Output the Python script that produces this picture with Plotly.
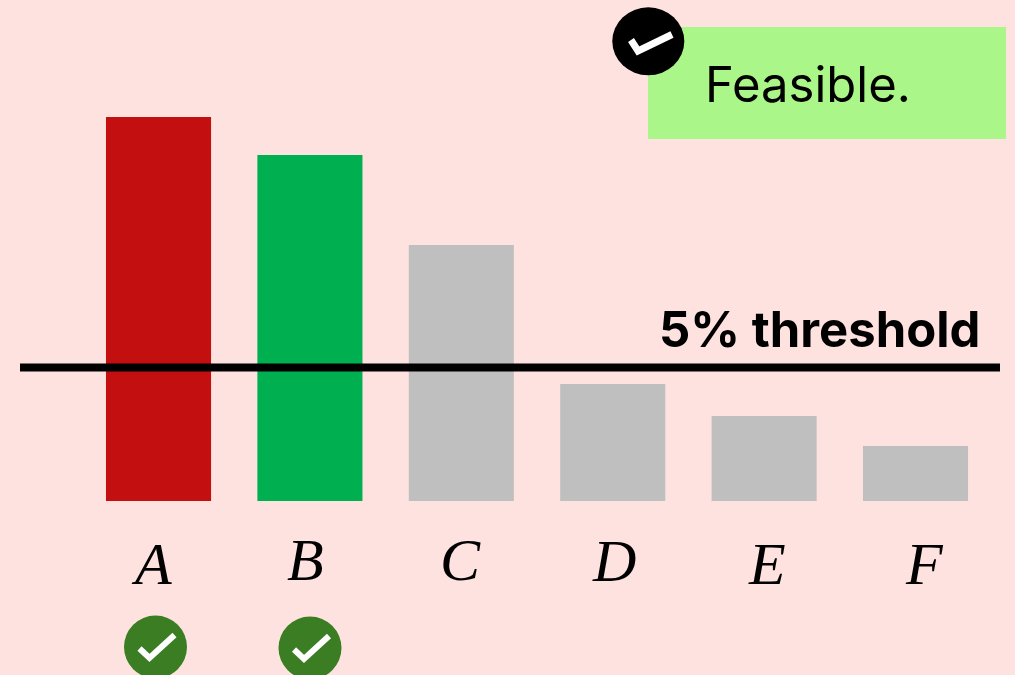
import plotly.graph_objects as go

W, H = 1015, 675
categories = ["A", "B", "C", "D", "E", "F"]
values = [14.38, 12.96, 9.59, 4.38, 3.18, 2.06]
bar_colors = ["#C30F0F", "#00B050", "#BFBFBF", "#BFBFBF", "#BFBFBF", "#BFBFBF"]
threshold = 5
threshold_label = "5% threshold"
note_label = "Feasible."
feasible = ["A", "B"]

BG = "#FEE2DF"


def px(x):
    return x / W


def py(y):
    return 1 - y / H


def poly(points):
    return "M " + " L ".join(f"{px(x):.5f},{py(y):.5f}" for x, y in points)


fig = go.Figure(
    go.Bar(x=categories, y=values, marker=dict(color=bar_colors, line=dict(width=0)), hoverinfo="x+y")
)

shapes = [
    dict(type="rect", xref="paper", yref="paper", x0=px(648), x1=px(1006), y0=py(139), y1=py(27),
         fillcolor="#AAF688", line=dict(width=0), layer="below"),
    dict(type="line", xref="paper", yref="y", x0=px(20), x1=px(1000), y0=threshold, y1=threshold,
         line=dict(color="#000000", width=8), layer="above"),
    dict(type="circle", xref="paper", yref="paper", x0=px(612.3), x1=px(684.3), y0=py(75.3), y1=py(7.3),
         fillcolor="#000000", line=dict(width=0)),
    dict(type="path", xref="paper", yref="paper", path=poly([(631, 40), (638, 51), (672, 34.5)]),
         line=dict(color="#FFFFFF", width=7), fillcolor="rgba(0,0,0,0)"),
]
badge_centers = {"A": (155.5, 647), "B": (310, 648)}
for name in feasible:
    cx, cy = badge_centers[name]
    shapes.append(dict(type="circle", xref="paper", yref="paper", x0=px(cx - 31.5), x1=px(cx + 31.5),
                       y0=py(cy + 31.5), y1=py(cy - 31.5), fillcolor="#3A7D22", line=dict(width=0)))
    shapes.append(dict(type="path", xref="paper", yref="paper",
                       path=poly([(cx - 16, cy + 1.5), (cx - 6, cy + 11), (cx + 19, cy - 12)]),
                       line=dict(color="#FFFFFF", width=6), fillcolor="rgba(0,0,0,0)"))

label_pos = {"A": (151, 587), "B": (305, 583), "C": (460, 583), "D": (614, 584), "E": (767, 587), "F": (924, 587)}
annotations = [
    dict(text=f"<i>{c}</i>", xref="paper", yref="paper", x=px(label_pos[c][0]), y=py(label_pos[c][1] + 12),
         xanchor="center", yanchor="bottom", showarrow=False,
         font=dict(family="Liberation Serif", size=60, color="#000000"))
    for c in categories
]
annotations += [
    dict(text=note_label, xref="paper", yref="paper", x=px(703), y=py(85), xanchor="left", yanchor="middle",
         showarrow=False, font=dict(family="Inter", size=49, color="#000000")),
    dict(text=f"<b>{threshold_label}</b>", xref="paper", yref="paper", x=px(982), y=py(329), xanchor="right",
         yanchor="middle", showarrow=False, font=dict(family="Inter", size=49, color="#000000")),
]

fig.update_layout(
    width=W, height=H, autosize=False,
    margin=dict(l=0, r=0, t=0, b=0),
    paper_bgcolor=BG, plot_bgcolor=BG,
    bargap=0.306, showlegend=False,
    shapes=shapes, annotations=annotations,
    xaxis=dict(range=[-1.047, 5.657], showticklabels=False, showgrid=False, zeroline=False, showline=False,
               ticks="", categoryorder="array", categoryarray=categories),
    yaxis=dict(range=[-6.517, 18.76], showticklabels=False, showgrid=False, zeroline=False, showline=False,
               ticks=""),
)
fig.write_html("out.html", config=dict(displayModeBar=False),
               post_script="document.body.style.margin='0';document.body.style.overflow='hidden';")
